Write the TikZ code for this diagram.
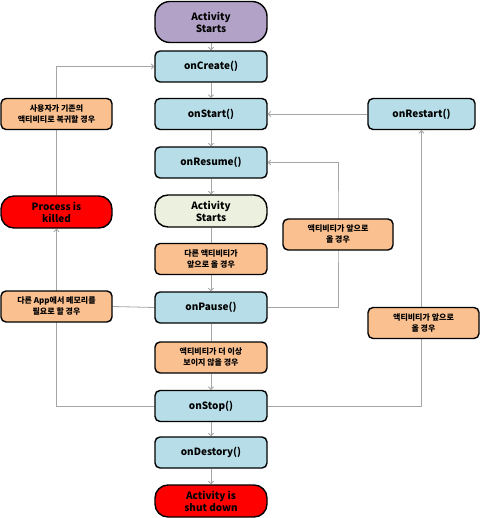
\documentclass[tikz,border=0pt]{standalone}
\usepackage{fontspec}
\setmainfont{Noto Sans CJK KR}
\usetikzlibrary{arrows.meta}
\pgfdeclarelayer{bg}
\pgfsetlayers{bg,main}
\definecolor{boxblue}{RGB}{183,222,232}
\definecolor{boxorange}{RGB}{250,192,144}
\definecolor{boxpurple}{RGB}{179,162,199}
\definecolor{boxgreen}{RGB}{235,241,222}
\definecolor{conngray}{RGB}{165,165,165}
\begin{document}
\begin{tikzpicture}[x=1pt,y=-1pt,
 base/.style={draw=black, line width=1.4pt, align=center, inner sep=0pt, font=\bfseries\fontsize{10}{12}\selectfont},
 method/.style={base, fill=boxblue, rounded corners=5pt, minimum width=112pt, minimum height=31pt},
 cond/.style={base, fill=boxorange, rounded corners=5pt, minimum height=31pt, font=\bfseries\fontsize{8}{11}\selectfont},
 term/.style={base, rounded corners=13pt, minimum width=112pt, minimum height=32pt},
 conn/.style={draw=conngray, line width=0.8pt},
 arr/.style={conn, -{Straight Barb[length=2.5pt,width=5pt]}}
]
\useasboundingbox (0,0) rectangle (480,518);
% centre column
\node[term, fill=boxpurple, minimum height=41pt, rounded corners=15pt] (start) at (211,22) {Activity\\Starts};
\node[method] (create) at (211,66.5) {onCreate()};
\node[method] (onstart) at (211,114) {onStart()};
\node[method] (resume) at (211,162.5) {onResume()};
\node[term, fill=boxgreen] (running) at (211,211) {Activity\\Starts};
\node[cond, minimum width=112pt] (other) at (211,259) {다른 액티비티가\\앞으로 올 경우};
\node[method] (pause) at (211,307.5) {onPause()};
\node[cond, minimum width=112pt] (notvis) at (211,357.5) {액티비티가 더 이상\\보이지 않을 경우};
\node[method] (stop) at (211,406) {onStop()};
\node[method] (destroy) at (211,452.5) {onDestory()};
\node[term, fill=red] (shut) at (211,501) {Activity is\\shut down};
% left column
\node[cond, minimum width=111pt] (user) at (56.5,114) {사용자가 기존의\\액티비티로 복귀할 경우};
\node[term, fill=red, minimum width=111pt] (killed) at (56.5,212) {Process is\\killed};
\node[cond, minimum width=111pt] (mem) at (56.5,306.5) {다른 App에서 메모리를\\필요로 할 경우};
% right column
\node[method, minimum width=107pt] (restart) at (421.5,114) {onRestart()};
\node[cond, minimum width=111pt] (rightcase) at (423.5,323) {액티비티가 앞으로\\올 경우};
\node[cond, minimum width=110pt] (midcase) at (338,234.5) {액티비티가 앞으로\\올 경우};
\begin{pgfonlayer}{bg}
\draw[arr] (start) -- (create);
\draw[arr] (create) -- (onstart);
\draw[arr] (onstart) -- (resume);
\draw[arr] (resume) -- (running);
\draw[conn] (running) -- (other);
\draw[arr] (other) -- (pause);
\draw[conn] (pause) -- (notvis);
\draw[arr] (notvis) -- (stop);
\draw[arr] (stop) -- (destroy);
\draw[arr] (destroy) -- (shut);
\draw[arr] (restart) -- (onstart);
\draw[arr] (stop.east) -| (restart.south);
\draw[arr] (pause.east) -| (midcase.north) |- (resume.east);
\draw[arr] (stop.west) -| (killed.south);
\draw[arr] (killed.north) |- (create.west);
\draw[conn] (mem.east) -- (pause.west);
\end{pgfonlayer}
\end{tikzpicture}
\end{document}
